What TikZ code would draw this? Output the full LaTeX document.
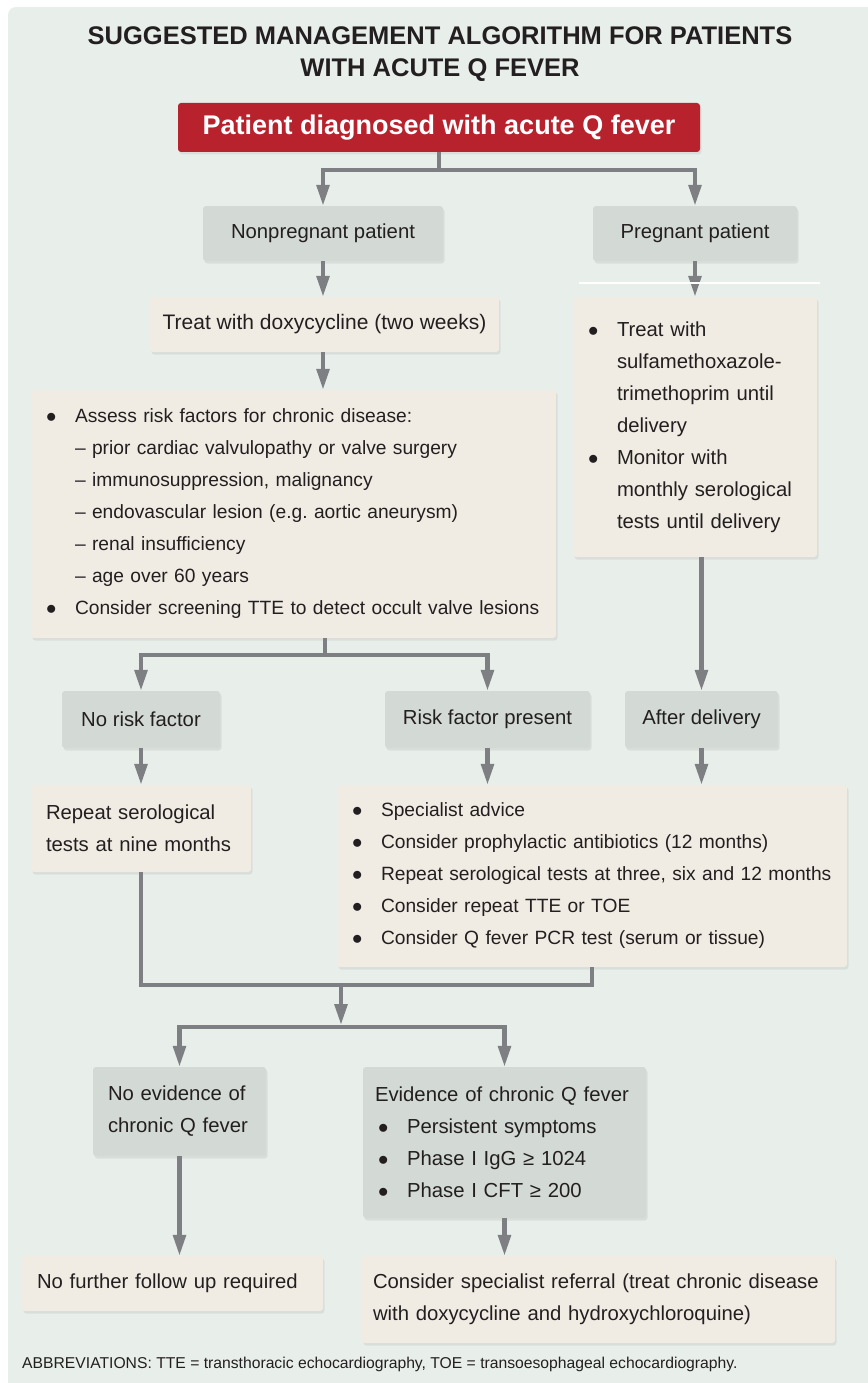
\documentclass[tikz,border=0pt]{standalone}
\usepackage{fontspec}
\setmainfont{Liberation Sans}
\usetikzlibrary{arrows.meta,shadows}
\definecolor{qpanel}{HTML}{E8EEEA}
\definecolor{qgrey}{HTML}{D3D9D5}
\definecolor{qbeige}{HTML}{F0ECE3}
\definecolor{qred}{HTML}{B8222C}
\definecolor{qarrow}{HTML}{7E7F83}
\definecolor{qtext}{HTML}{231F20}
\newcommand{\qbullet}{\makebox[29pt][l]{$\bullet$}}
\newcommand{\qindent}{\hspace*{29pt}}
\hyphenpenalty=10000
\exhyphenpenalty=10000
\frenchspacing

\begin{document}
\begin{tikzpicture}[
  x=1pt,
  y=-1pt,
  line join=miter,
  box/.style={rounded corners=3pt,inner ysep=0pt,text=qtext,
    font=\fontsize{20.3}{32}\selectfont,
    drop shadow={shadow xshift=1.5pt,shadow yshift=-2.5pt,opacity=0.14}},
  choice/.style={box,fill=qgrey,align=center},
  action/.style={box,fill=qbeige,align=center},
  listing/.style={box,fill=qbeige,align=left,inner xsep=15pt},
  listfont/.style={font=\fontsize{19.2}{32}\selectfont},
  flow/.style={draw=qarrow,line width=4.3pt},
  arrow/.style={flow,-{Triangle[length=21pt,width=12.5pt]}}
]
  \useasboundingbox (0,0) rectangle (867,1383);
  \fill[qpanel,rounded corners=8pt] (8,7) rectangle (880,1395);

  % Heading and the starting point.
  \node[font=\bfseries\fontsize{25.5}{32}\selectfont,text=qtext,align=center] (title) at (440,54)
    {SUGGESTED MANAGEMENT ALGORITHM FOR PATIENTS\\WITH ACUTE Q FEVER};
  \node[box,fill=qred,text=white,font=\bfseries\fontsize{27}{30}\selectfont,
    minimum width=522pt,minimum height=49pt] (diag) at (439,127.5) {Patient diagnosed with acute Q fever};

  % First split: pregnancy.
  \node[choice,minimum width=240pt,minimum height=55pt] (nonpreg) at (323,233.5) {Nonpregnant patient};
  \node[choice,minimum width=204pt,minimum height=55pt] (preg) at (695,233.5) {Pregnant patient};
  \node[action,font=\fontsize{21}{32}\selectfont,minimum width=349pt,minimum height=55pt] (doxy) at (324.5,324.5)
    {Treat with doxycycline (two weeks)};
  \node[listing,text width=214pt,minimum height=260pt] (pregtreat) at (695,427)
    {\qbullet Treat with\\ \qindent sulfamethoxazole-\\ \qindent trimethoprim until\\ \qindent delivery\\
     \qbullet Monitor with\\ \qindent monthly serological\\ \qindent tests until delivery};
  \node[listing,listfont,text width=495pt,minimum height=248pt] (risk) at (293.5,514)
    {\qbullet Assess risk factors for chronic disease:\\
     \qindent – prior cardiac valvulopathy or valve surgery\\
     \qindent – immunosuppression, malignancy\\
     \qindent – endovascular lesion (e.g. aortic aneurysm)\\
     \qindent – renal insufficiency\\
     \qindent – age over 60 years\\
     \qbullet Consider screening TTE to detect occult valve lesions};

  % Second split: risk factors.
  \node[choice,minimum width=158pt,minimum height=57pt] (norisk) at (141,719.5) {No risk factor};
  \node[choice,minimum width=205pt,minimum height=57pt] (riskyes) at (487.5,719.5) {Risk factor present};
  \node[choice,minimum width=153pt,minimum height=57pt] (after) at (701.5,719.5) {After delivery};
  \node[listing,text width=190pt,minimum height=87pt] (repeat) at (141,828.5)
    {Repeat serological\\tests at nine months};
  \node[listing,listfont,text width=480pt,minimum height=182pt] (advice) at (592,876)
    {\qbullet Specialist advice\\
     \qbullet Consider prophylactic antibiotics (12 months)\\
     \qbullet Repeat serological tests at three, six and 12 months\\
     \qbullet Consider repeat TTE or TOE\\
     \qbullet Consider Q fever PCR test (serum or tissue)};

  % Outcome of follow-up.
  \node[listing,fill=qgrey,text width=143pt,minimum height=89pt] (noevid) at (179.5,1111.5)
    {No evidence of\\chronic Q fever};
  \node[listing,fill=qgrey,inner xsep=12pt,text width=259pt,minimum height=151pt] (evid) at (504.5,1142.5)
    {Evidence of chronic Q fever\\
     \hspace*{3pt}\qbullet Persistent symptoms\\
     \hspace*{3pt}\qbullet Phase I IgG ≥ 1024\\
     \hspace*{3pt}\qbullet Phase I CFT ≥ 200};
  \node[listing,text width=271pt,minimum height=55pt] (nofollow) at (172.5,1283.5) {No further follow up required};
  \node[listing,inner xsep=11pt,text width=451pt,minimum height=87pt] (referral) at (598.5,1299.5)
    {Consider specialist referral (treat chronic disease\\with doxycycline and hydroxychloroquine)};

  \node[anchor=west,inner sep=0pt,text=qtext,font=\fontsize{15.7}{18}\selectfont] (abbrev) at (22,1364)
    {ABBREVIATIONS: TTE = transthoracic echocardiography, TOE = transoesophageal echocardiography.};

  % Connectors, top to bottom.
  \coordinate (split1) at (439,170);
  \draw[flow] (diag.south) -- (split1);
  \draw[arrow] (split1) -| (nonpreg.north);
  \draw[arrow] (split1) -| (preg.north);
  \draw[arrow] (nonpreg.south) -- (nonpreg.south |- doxy.north);
  \draw[arrow] (preg.south) -- (pregtreat.north);
  \draw[arrow] (nonpreg.south |- doxy.south) -- (nonpreg.south |- risk.north);

  \coordinate (split2) at (325,655);
  \draw[flow] (risk.south -| split2) -- (split2);
  \draw[arrow] (split2) -| (norisk.north);
  \draw[arrow] (split2) -| (riskyes.north);
  \draw[arrow] (pregtreat.south -| after.north) -- (after.north);
  \foreach \a/\b in {norisk/repeat,riskyes/advice,after/advice}
    \draw[arrow] (\a.south) -- (\a.south |- \b.north);

  \coordinate (merge) at (341,985);
  \coordinate (split3) at (341,1027);
  \draw[flow] (repeat.south) |- (merge) -| (advice.south);
  \draw[arrow,shorten >=2pt] (merge) -- (split3);
  \draw[arrow] (split3) -| (noevid.north);
  \draw[arrow] (split3) -| (evid.north);
  \draw[arrow] (noevid.south) -- (noevid.south |- nofollow.north);
  \draw[arrow] (evid.south) -- (evid.south |- referral.north);

  % Thin white rule across the pregnant branch.
  \draw[white,line width=1.5pt] (579,283) -- (820,283);
\end{tikzpicture}
\end{document}
